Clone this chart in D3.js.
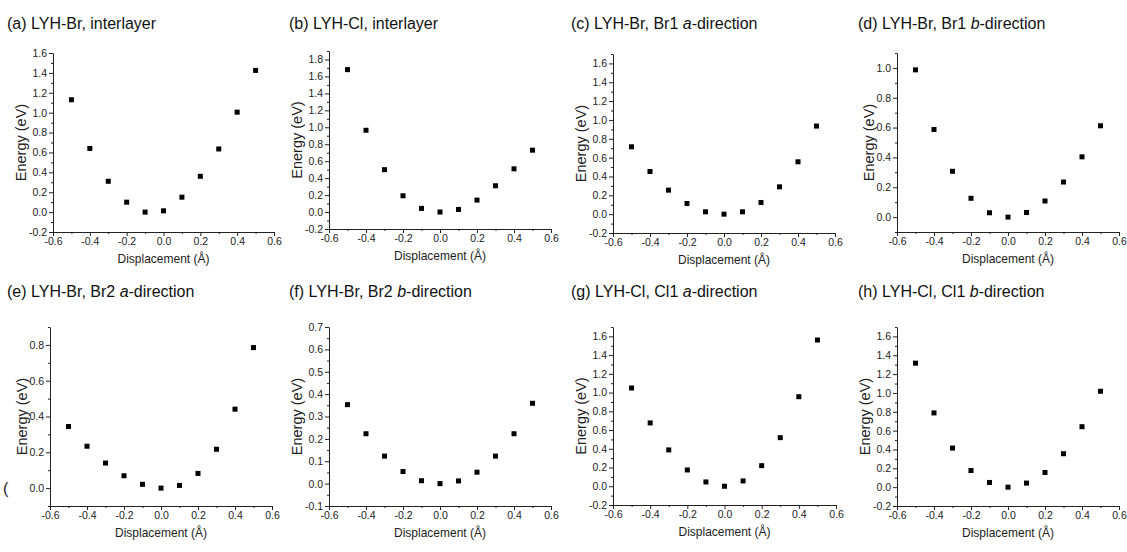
<!DOCTYPE html>
<html>
<head>
<meta charset="utf-8">
<script src="https://cdn.jsdelivr.net/npm/d3@7"></script>
<style>
  body { margin: 0; background: #fff; }
  svg { display: block; font-family: "Liberation Sans", Arial, sans-serif; }
</style>
</head>
<body>
<div id="chart"></div>
<script>
// displacement steps (Å), same for every panel
const displacement = [-0.5, -0.4, -0.3, -0.2, -0.1, 0.0, 0.1, 0.2, 0.3, 0.4, 0.5];

// energies (eV)
const brInterlayer = [1.13, 0.64, 0.31, 0.10, 0.00, 0.013, 0.15, 0.36, 0.635, 1.005, 1.425];
const clInterlayer = [1.68, 0.965, 0.50, 0.192, 0.043, 0.00, 0.031, 0.141, 0.31, 0.51, 0.73];
const br1A = [0.715, 0.453, 0.255, 0.113, 0.025, 0.00, 0.025, 0.124, 0.29, 0.556, 0.935];
const br1B = [0.987, 0.587, 0.307, 0.126, 0.029, 0.00, 0.031, 0.108, 0.235, 0.404, 0.612];
const br2A = [0.344, 0.234, 0.140, 0.069, 0.021, 0.00, 0.015, 0.082, 0.217, 0.441, 0.785];
const br2B = [0.353, 0.223, 0.123, 0.054, 0.013, 0.00, 0.012, 0.051, 0.123, 0.223, 0.359];
const cl1A = [1.049, 0.676, 0.388, 0.174, 0.046, 0.00, 0.057, 0.22, 0.519, 0.956, 1.561];
const cl1B = [1.316, 0.788, 0.415, 0.177, 0.05, 0.00, 0.043, 0.156, 0.355, 0.642, 1.018];

// panel titles (italic part kept separate)
const titles = [
  ["(a) LYH-Br, interlayer", "", ""],
  ["(b) LYH-Cl, interlayer", "", ""],
  ["(c) LYH-Br, Br1 ", "a", "-direction"],
  ["(d) LYH-Br, Br1 ", "b", "-direction"],
  ["(e) LYH-Br, Br2 ", "a", "-direction"],
  ["(f) LYH-Br, Br2 ", "b", "-direction"],
  ["(g) LYH-Cl, Cl1 ", "a", "-direction"],
  ["(h) LYH-Cl, Cl1 ", "b", "-direction"]
];

// x ticks shared by all panels
const xTicks = [-0.6, -0.4, -0.2, 0.0, 0.2, 0.4, 0.6];

// y ticks per panel
const yTicksA = [-0.2, 0.0, 0.2, 0.4, 0.6, 0.8, 1.0, 1.2, 1.4, 1.6];
const yTicksB = [-0.2, 0.0, 0.2, 0.4, 0.6, 0.8, 1.0, 1.2, 1.4, 1.6, 1.8];
const yTicksD = [0.0, 0.2, 0.4, 0.6, 0.8, 1.0];
const yTicksE = [0.0, 0.2, 0.4, 0.6, 0.8];
const yTicksF = [-0.1, 0.0, 0.1, 0.2, 0.3, 0.4, 0.5, 0.6, 0.7];

const W = 1127, H = 552;

const svg = d3.select("#chart").append("svg")
  .attr("width", W)
  .attr("height", H);

// layout of each panel: pixel box plus axis domain
const panels = [
  {title: titles[0], data: brInterlayer, yDom: [-0.2, 1.6], yTicks: yTicksA, minor: 0.1, box: [53, 274, 53, 232], tx: 7, ty: 29},
  {title: titles[1], data: clInterlayer, yDom: [-0.2, 1.9], yTicks: yTicksB, minor: 0.1, box: [329, 551, 51, 229], tx: 289, ty: 29},
  {title: titles[2], data: br1A, yDom: [-0.2, 1.7], yTicks: yTicksA, minor: 0.1, box: [613, 835, 54, 233], tx: 571, ty: 29},
  {title: titles[3], data: br1B, yDom: [-0.1, 1.1], yTicks: yTicksD, minor: 0.1, box: [897, 1119, 53, 232], tx: 858, ty: 29},
  {title: titles[4], data: br2A, yDom: [-0.1, 0.9], yTicks: yTicksE, minor: 0.1, box: [50, 272, 327, 506], tx: 7, ty: 297},
  {title: titles[5], data: br2B, yDom: [-0.1, 0.7], yTicks: yTicksF, minor: 0.05, box: [329, 551, 327, 506], tx: 289, ty: 297},
  {title: titles[6], data: cl1A, yDom: [-0.2, 1.7], yTicks: yTicksA, minor: 0.1, box: [613, 836, 327, 505], tx: 571, ty: 297},
  {title: titles[7], data: cl1B, yDom: [-0.2, 1.7], yTicks: yTicksA, minor: 0.1, box: [897, 1119, 327, 506], tx: 858, ty: 297}
];

const fmt = v => (Math.abs(v) < 1e-9 ? 0 : v).toFixed(1);

function drawPanel(p) {
  const [x0, x1, y0, y1] = p.box;
  const g = svg.append("g");

  // title
  const t = g.append("text")
    .attr("x", p.tx)
    .attr("y", p.ty)
    .attr("font-size", 16)
    .attr("fill", "#111");
  t.append("tspan").text(p.title[0]);
  if (p.title[1]) {
    t.append("tspan").attr("font-style", "italic").text(p.title[1]);
    t.append("tspan").text(p.title[2]);
  }

  // scales
  const x = d3.scaleLinear().domain([-0.6, 0.6]).range([x0, x1]);
  const y = d3.scaleLinear().domain(p.yDom).range([y1, y0]);

  // minor ticks
  const xMinor = d3.range(-0.5, 0.6, 0.2);
  const yMinor = d3.range(p.yTicks[0] - p.minor, p.yDom[1] + 1e-9, p.minor)
    .filter(v => v >= p.yDom[0] - 1e-9 && !p.yTicks.some(t => Math.abs(t - v) < 1e-6));

  g.append("g")
    .attr("transform", `translate(0, ${y1})`)
    .call(d3.axisBottom(x).tickValues(xMinor).tickSize(2).tickFormat(""))
    .call(a => a.select(".domain").remove());
  g.append("g")
    .attr("transform", `translate(${x0}, 0)`)
    .call(d3.axisLeft(y).tickValues(yMinor).tickSize(2).tickFormat(""))
    .call(a => a.select(".domain").remove());

  // X axis
  g.append("g")
    .attr("transform", `translate(0, ${y1})`)
    .call(d3.axisBottom(x).tickValues(xTicks).tickFormat(fmt).tickSize(4).tickSizeOuter(0).tickPadding(2))
    .call(a => a.selectAll("text").attr("font-size", 10.5).attr("fill", "#222").attr("font-family", null));

  // Y axis
  g.append("g")
    .attr("transform", `translate(${x0}, 0)`)
    .call(d3.axisLeft(y).tickValues(p.yTicks).tickFormat(fmt).tickSize(4).tickSizeOuter(0).tickPadding(2))
    .call(a => a.selectAll("text").attr("font-size", 10.5).attr("fill", "#222").attr("font-family", null));

  g.selectAll(".domain, .tick line").attr("stroke", "#222");

  // axis titles
  g.append("text")
    .attr("transform", `translate(${(x0 + x1) / 2}, ${y1 + 31}) scale(1, 1.12)`)
    .attr("text-anchor", "middle")
    .attr("font-size", 12)
    .attr("fill", "#222")
    .text("Displacement (Å)");

  const off = p.yTicks[0] < 0 ? 32 : 28;
  g.append("text")
    .attr("transform", `translate(${x0 - off}, ${(y0 + y1) / 2}) rotate(-90)`)
    .attr("text-anchor", "middle")
    .attr("dy", "0.35em")
    .attr("font-size", 14.5)
    .attr("fill", "#222")
    .text("Energy (eV)");

  // points
  g.selectAll("rect.pt")
    .data(p.data)
    .enter()
    .append("rect")
      .attr("class", "pt")
      .attr("x", (d, i) => x(displacement[i]) - 2.5)
      .attr("y", d => y(d) - 2.5)
      .attr("width", 5)
      .attr("height", 5)
      .attr("fill", "#000");
}

panels.forEach(drawPanel);

// stray bracket left of panel (e)
svg.append("text")
  .attr("x", 3)
  .attr("y", 494)
  .attr("font-size", 16)
  .attr("fill", "#222")
  .text("(");
</script>
</body>
</html>
